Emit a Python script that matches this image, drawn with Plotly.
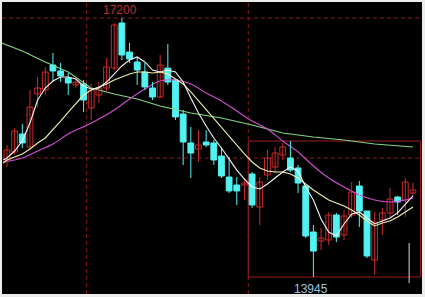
import plotly.graph_objects as go

# ---------------- data ----------------
idx = list(range(54))
opens = [15415, 15516, 15742, 15579, 16245, 16295, 16609, 16534, 16446, 16358,
         16370, 16069, 16232, 16320, 16571, 17137, 16772, 16647, 16521, 16320,
         16207, 16571, 16421, 15993, 15629, 15553, 15641, 15629, 15465, 15201,
         15101, 15101, 15239, 14824, 15227, 15327, 15478, 15440, 15315, 15088,
         14510, 14397, 14410, 14724, 14473, 14724, 15088, 14774, 14158, 14661,
         14749, 14950, 14912, 15000]
highs = [15604, 15817, 15868, 16295, 16458, 16584, 16760, 16634, 16509, 16458,
         16421, 16370, 16395, 16697, 17137, 17200, 16886, 16710, 16634, 16395,
         16735, 16873, 16421, 16044, 15830, 15792, 15792, 15666, 15579, 15453,
         15201, 15189, 15264, 15201, 15541, 15579, 15629, 15654, 15352, 15101,
         14598, 14560, 14762, 14749, 14787, 15139, 15151, 14774, 14762, 14812,
         15063, 14963, 15189, 15126]
lows = [15327, 15478, 15566, 15541, 16081, 16232, 16395, 16395, 16232, 16320,
        16018, 15918, 16131, 16270, 16546, 16672, 16634, 16358, 16295, 16169,
        16194, 16358, 15918, 15352, 15189, 15390, 15579, 15352, 15189, 15000,
        14850, 14912, 14812, 14598, 15164, 15252, 15415, 15264, 15000, 14435,
        13945, 14284, 14347, 14385, 14410, 14686, 14573, 14183, 13970, 14473,
        14686, 14724, 14699, 14963]
closes = [15541, 15780, 15629, 16081, 16320, 16521, 16534, 16471, 16383, 16395,
          16169, 16295, 16320, 16584, 17112, 16735, 16684, 16546, 16333, 16207,
          16609, 16395, 15956, 15641, 15503, 15604, 15604, 15415, 15214, 15026,
          15026, 15126, 14850, 15139, 15440, 15503, 15579, 15289, 15126, 14460,
          14271, 14435, 14724, 14447, 14711, 15013, 14774, 14209, 14636, 14749,
          14925, 14887, 15139, 15038]

ma_x = [-0.5] + idx
ma_white = [15415, 15440, 15528, 15654, 15880, 16169, 16320, 16408, 16458, 16458,
            16433, 16345, 16307, 16320, 16395, 16496, 16597, 16672, 16710, 16647,
            16546, 16521, 16546, 16521, 16395, 16194, 16006, 15842, 15692, 15566,
            15428, 15289, 15176, 15076, 15051, 15113, 15189, 15264, 15327, 15277,
            15076, 14912, 14674, 14510, 14460, 14611, 14736, 14762, 14686, 14611,
            14648, 14686, 14750, 14850, 14963]
ma_yellow = [15377, 15415, 15453, 15491, 15553, 15629, 15692, 15792, 15905, 16018,
             16131, 16232, 16295, 16333, 16370, 16421, 16458, 16496, 16521, 16521,
             16509, 16521, 16496, 16433, 16370, 16270, 16157, 16056, 15930, 15817,
             15704, 15591, 15491, 15390, 15315, 15277, 15264, 15264, 15239, 15189,
             15113, 15038, 14975, 14912, 14875, 14837, 14787, 14724, 14648, 14586,
             14623, 14648, 14699, 14762, 14824]

purple_x = [-0.5, 2, 4, 6, 8, 10.5, 12, 14, 16, 18, 20, 22, 24, 26, 28, 30, 32,
            34, 36, 38, 40, 42, 44, 46, 48, 50, 52, 53]
ma_purple = [15390, 15440, 15528, 15616, 15742, 15855, 15930, 16044, 16182, 16307,
             16408, 16421, 16370, 16257, 16157, 16031, 15905, 15805, 15654, 15516,
             15340, 15189, 15076, 14975, 14912, 14887, 14912, 14938]

green_x = [-0.7, 2, 5, 8, 11, 14, 17, 20, 24, 28, 32, 36, 40, 44, 48, 53]
ma_green = [16886, 16785, 16647, 16521, 16320, 16245, 16182, 16094, 16006, 15943,
            15855, 15754, 15704, 15666, 15616, 15579]

hline_levels = [17200, 15440]
vline_positions = [10.4, 31.5]
box_x = [31.5, 54.0]
box_start = 32
cursor_x = 52.5
cursor_y = [14372, 13869]

# ---------------- figure ----------------
fig = go.Figure()

RED = "#c92b2b"
CYAN = "#52f2f2"
GRID = "#8a1c1c"
BODY_W = 0.76

for lv in hline_levels:
    fig.add_shape(type="line", xref="paper", x0=0, x1=1, yref="y", y0=lv, y1=lv,
                  line=dict(color=GRID, width=1, dash="4px,3px"), layer="below")
for vx in vline_positions:
    fig.add_shape(type="line", xref="x", x0=vx, x1=vx, yref="paper", y0=0, y1=1,
                  line=dict(color=GRID, width=1, dash="4px,3px"), layer="below")

box_low = min(lows[box_start:])
box_high = max(highs[box_start:])
fig.add_shape(type="rect", x0=box_x[0], x1=box_x[1], y0=box_low, y1=box_high,
              line=dict(color="#9a1f1f", width=1), layer="below")

fig.add_trace(go.Scatter(x=[cursor_x, cursor_x], y=cursor_y, mode="lines",
                         line=dict(color="#d8d8d8", width=1), hoverinfo="skip"))

fig.add_trace(go.Scatter(x=green_x, y=ma_green, mode="lines",
                         line=dict(color="#86d486", width=1.1), hoverinfo="skip"))
fig.add_trace(go.Scatter(x=purple_x, y=ma_purple, mode="lines", line_shape="spline",
                         line=dict(color="#d04cd0", width=1.1), hoverinfo="skip"))

# candles: wicks + bodies
for up, color in ((True, RED), (False, CYAN)):
    sel = [i for i in idx if (closes[i] >= opens[i]) == up]
    wx, wy = [], []
    for i in sel:
        wx += [i, i, None]
        wy += [lows[i], highs[i], None]
    fig.add_trace(go.Scatter(x=wx, y=wy, mode="lines",
                             line=dict(color=color, width=1), hoverinfo="skip"))
    fig.add_trace(go.Bar(
        x=sel,
        base=[min(opens[i], closes[i]) for i in sel],
        y=[abs(closes[i] - opens[i]) for i in sel],
        width=BODY_W,
        marker=dict(color="#000000" if up else color, line=dict(color=color, width=1)),
        hoverinfo="skip"))

fig.add_trace(go.Scatter(x=ma_x, y=ma_yellow, mode="lines",
                         line=dict(color="#f2f0a8", width=1.1), hoverinfo="skip"))
fig.add_trace(go.Scatter(x=ma_x, y=ma_white, mode="lines",
                         line=dict(color="#f4f4f4", width=1.1), hoverinfo="skip"))

imax = highs.index(max(highs))
imin = lows.index(min(lows))
fig.add_annotation(x=imax, y=highs[imax], text=str(highs[imax]), showarrow=False,
                   yanchor="bottom", yshift=-1, xshift=-2,
                   font=dict(family="Liberation Sans, Arial", size=12, color="#b83030"))
fig.add_annotation(x=imin, y=lows[imin], text=str(lows[imin]), showarrow=False,
                   yanchor="top", yshift=-3, xshift=-2,
                   font=dict(family="Liberation Sans, Arial", size=12, color="#9cc4e4"))

fig.update_layout(
    width=425, height=297,
    margin=dict(l=2, r=3, t=2, b=3),
    paper_bgcolor="#ececec",
    plot_bgcolor="#000000",
    showlegend=False,
    barmode="overlay",
    xaxis=dict(range=[-0.65, 54.18], showgrid=False, zeroline=False,
               showticklabels=False, fixedrange=True),
    yaxis=dict(range=[13731, 17401], showgrid=False, zeroline=False,
               showticklabels=False, fixedrange=True),
)

fig.write_html("out.html")
